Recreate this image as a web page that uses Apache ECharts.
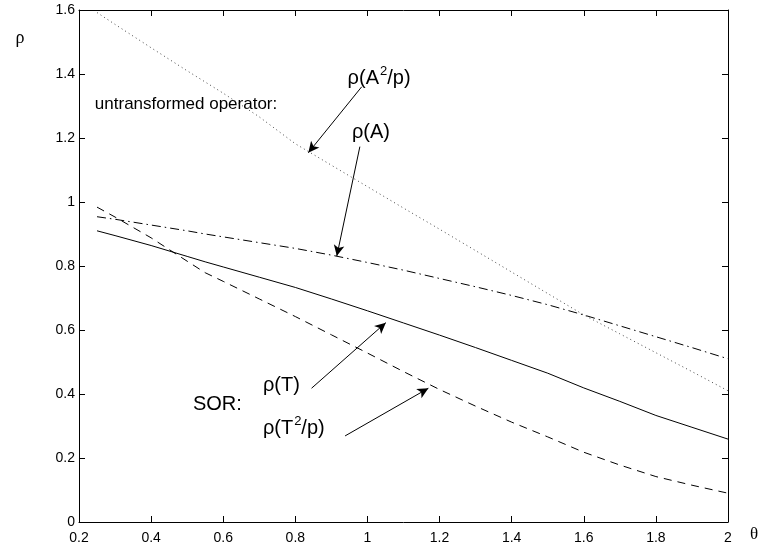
<!DOCTYPE html>
<html>
<head>
<meta charset="utf-8">
<script src="https://cdn.jsdelivr.net/npm/echarts@6/dist/echarts.min.js"></script>
<style>html,body{margin:0;padding:0;background:#fff}#c{width:760px;height:548px}</style>
</head>
<body>
<div id="c"></div>
<script>
const thetas = [0.25,0.3,0.4,0.5,0.55,0.6,0.7,0.8,0.9,1.0,1.1,1.2,1.3,1.4,1.5,1.6,1.7,1.8,1.9,2.0];
const rhoT   = [0.910,0.895,0.864,0.830,0.813,0.797,0.765,0.733,0.697,0.660,0.622,0.584,0.545,0.505,0.465,0.419,0.377,0.333,0.296,0.259];
const rhoT2p = [0.984,0.953,0.888,0.815,0.779,0.752,0.697,0.642,0.585,0.528,0.470,0.414,0.362,0.312,0.266,0.218,0.178,0.142,0.115,0.090];
const rhoA   = [0.954,0.946,0.928,0.910,0.900,0.891,0.873,0.855,0.834,0.811,0.787,0.761,0.735,0.708,0.679,0.647,0.613,0.579,0.545,0.510];
const rhoA2p = [1.592,1.555,1.482,1.410,1.375,1.340,1.266,1.182,1.115,1.048,0.981,0.915,0.848,0.781,0.714,0.647,0.588,0.529,0.470,0.410];
const xTicks = [0.2,0.4,0.6,0.8,1,1.2,1.4,1.6,1.8,2];
const yTicks = [0,0.2,0.4,0.6,0.8,1,1.2,1.4,1.6];

// annotation arrows: [tailX, tailY, headX, headY] in data units
const arrows = [
  [0.984,1.360,0.836,1.154],
  [0.979,1.173,0.915,0.831],
  [0.845,0.418,1.051,0.623],
  [0.938,0.269,1.169,0.418]
];
// annotation texts: [text(rich), x, y]
const notes = [
  ['{n|ρ(A}{s|2}{n|/p)}', 0.945, 1.387],
  ['{m|untransformed operator:}', 0.244, 1.306],
  ['{n|ρ(A)}', 0.957, 1.216],
  ['{n|ρ(T)}', 0.710, 0.428],
  ['{n|SOR:}', 0.516, 0.366],
  ['{n|ρ(T}{s|2}{n|/p)}', 0.710, 0.293]
];

const pairs = ys => thetas.map((t,i)=>[t, ys[i]]);
const FONT = '"Liberation Sans", Arial, sans-serif';
const chart = echarts.init(document.getElementById('c'), null, {renderer:'canvas'});

const axisCommon = {
  type:'value', splitLine:{show:false},
  axisLine:{show:true, onZero:false, lineStyle:{color:'#000', width:1}},
  axisTick:{show:true, inside:true, length:6, lineStyle:{color:'#000', width:1}},
};
function mkLine(name, ys, type, color){
  return {
    name, type:'line', data:pairs(ys), symbol:'none', silent:true,
    lineStyle:{color:color||'#000', width:1, type:type},
    animation:false
  };
}
const option = {
  animation:false,
  grid:{left:79, right:32, top:10, bottom:26},
  xAxis:[
    Object.assign({}, axisCommon, {min:0.2, max:2, interval:0.2, position:'bottom',
      axisLabel:{color:'#000', fontSize:14, fontFamily:FONT, margin:9,
        formatter: v => { const r = Math.round(v*10)/10; return xTicks.indexOf(r)>=0 ? String(r) : ''; }}}),
    Object.assign({}, axisCommon, {min:0.2, max:2, interval:0.2, position:'top', axisLabel:{show:false}})
  ],
  yAxis:[
    Object.assign({}, axisCommon, {min:0, max:1.6, interval:0.2, position:'left',
      axisLabel:{color:'#000', fontSize:14, fontFamily:FONT, margin:4,
        formatter: v => { const r = Math.round(v*10)/10; return yTicks.indexOf(r)>=0 ? String(r) : ''; }}}),
    Object.assign({}, axisCommon, {min:0, max:1.6, interval:0.2, position:'right', axisLabel:{show:false}})
  ],
  series:[
    mkLine('rhoT', rhoT, 'solid'),
    mkLine('rhoT2p', rhoT2p, [8,6]),
    mkLine('rhoA', rhoA, [9,4,1.5,4]),
    mkLine('rhoA2p', rhoA2p, [1,3.2], '#444'),
    {
      type:'line', data:[], silent:true, animation:false,
      markLine:{
        silent:true, animation:false,
        symbol:['none','arrow'], symbolSize:[8,11],
        label:{show:false},
        lineStyle:{color:'#000', width:1, type:'solid'},
        emphasis:{disabled:true},
        data: arrows.map(a => [{coord:[a[0],a[1]]},{coord:[a[2],a[3]]}])
      }
    }
  ]
};
chart.setOption(option);

const rich = {
  n:{fontSize:20, fontFamily:FONT, color:'#000', verticalAlign:'middle'},
  m:{fontSize:17, fontFamily:FONT, color:'#000'},
  s:{fontSize:13, fontFamily:FONT, color:'#000', verticalAlign:'top', padding:[0,0,13,1]}
};
const graphics = notes.map(n => {
  const p = chart.convertToPixel({gridIndex:0}, [n[1], n[2]]);
  return {type:'text', x:p[0], y:p[1], silent:true,
    style:{text:n[0], rich:rich, verticalAlign:'middle', align:'left', fill:'#000'}};
});
// axis names
graphics.push({type:'text', x:20, y:38, silent:true,
  style:{text:'ρ', font:'18px "Liberation Serif", serif', fill:'#000', align:'center', verticalAlign:'middle'}});
graphics.push({type:'text', x:754, y:535, silent:true,
  style:{text:'θ', font:'17px "Liberation Serif", serif', fill:'#000', align:'center', verticalAlign:'middle'}});
chart.setOption({graphic: graphics});
</script>
</body>
</html>
